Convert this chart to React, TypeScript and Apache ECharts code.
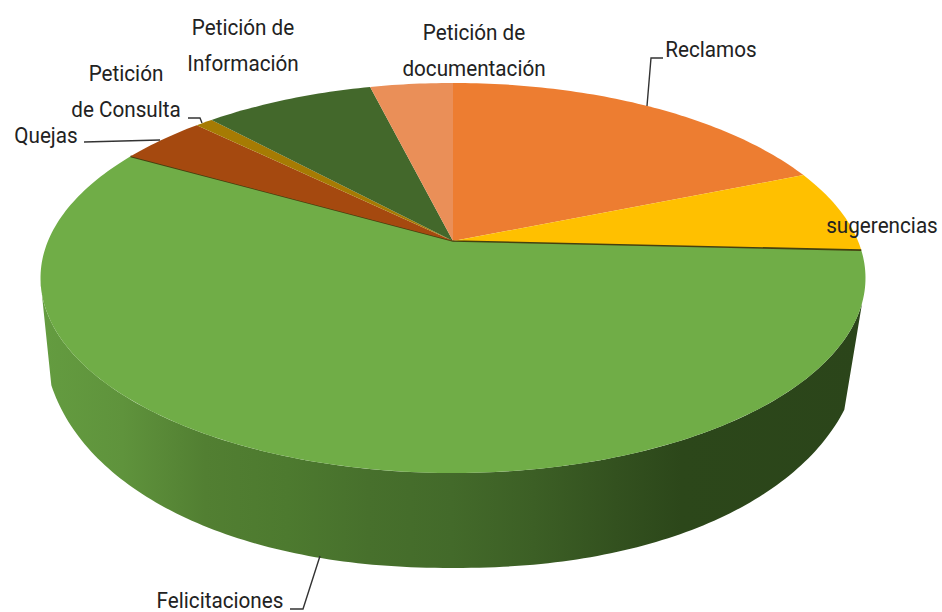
import React, { useEffect, useRef } from "react";
import * as echarts from "echarts";

const categories = ["Reclamos", "sugerencias", "Felicitaciones", "Quejas", "Petición de Consulta", "Petición de Información", "Petición de documentación"];
const shares = [18.9, 6.9, 57.5, 4.1, 0.83, 8.0, 3.9];
const topColors = ["#ed7d31", "#ffc000", "#70ad47", "#a5490f", "#a67b03", "#43682b", "#ea8f58"];

const labelLines = [
  { text: "Reclamos", x: 711, y: 49 },
  { text: "sugerencias", x: 882, y: 225 },
  { text: "Felicitaciones", x: 220, y: 600 },
  { text: "Quejas", x: 46, y: 135 },
  { text: "Petición\nde Consulta", x: 126, y: 91 },
  { text: "Petición de\nInformación", x: 243, y: 45 },
  { text: "Petición de\ndocumentación", x: 474, y: 50 },
];
const leaders = [
  [[647, 106], [651, 58], [663, 58]],
  [[290, 609], [303, 609], [320, 556]],
  [[84, 142], [160, 140]],
  [[188, 118], [200, 118], [202, 123]],
];

const APEX = [453, 241];
const A = 188, C = -0.1897, D = 405;
const BOTTOM = { cx: 453, cy: 330, a: 410, b: 238, p: 0.93 };
const WALL_FROM = 108, WALL_TO = 258;
const rad = (d: number) => (d * Math.PI) / 180;

function top(deg: number) {
  const u = Math.sin(rad(deg)), v = -Math.cos(rad(deg));
  const k = 1 + C * v;
  return [APEX[0] + (D * u) / k, APEX[1] + (A * v) / k];
}
function bottom(deg: number) {
  const s = Math.sin(rad(deg)), c = -Math.cos(rad(deg));
  return [
    BOTTOM.cx + BOTTOM.a * Math.sign(s) * Math.pow(Math.abs(s), BOTTOM.p),
    BOTTOM.cy + BOTTOM.b * Math.sign(c) * Math.pow(Math.abs(c), BOTTOM.p),
  ];
}
function arc(from: number, to: number, fn: (d: number) => number[]) {
  const n = Math.max(2, Math.ceil(Math.abs(to - from)));
  const pts: number[][] = [];
  for (let i = 0; i <= n; i++) pts.push(fn(from + ((to - from) * i) / n));
  return pts;
}

const total = shares.reduce((a, b) => a + b, 0);
let acc = 0;
const seriesData = categories.map((name, i) => {
  const start = acc;
  acc += shares[i];
  return { name, value: [shares[i], start] };
});

const wallFill = new echarts.graphic.LinearGradient(0, 0, 1, 0, [
  { offset: 0, color: "#649c40" },
  { offset: 0.1, color: "#5f933c" },
  { offset: 0.2, color: "#527f32" },
  { offset: 0.3, color: "#4d7a2f" },
  { offset: 0.4, color: "#47702c" },
  { offset: 0.5, color: "#436a2a" },
  { offset: 0.6, color: "#3c5f25" },
  { offset: 0.7, color: "#33511f" },
  { offset: 0.78, color: "#2c471a" },
  { offset: 1, color: "#2b451a" },
]);

function renderItem(params: any, api: any) {
  const i = params.dataIndex;
  const a0 = (api.value(1) / total) * 360;
  const a1 = a0 + (api.value(0) / total) * 360;
  const children: any[] = [];
  const w0 = Math.max(a0, WALL_FROM), w1 = Math.min(a1, WALL_TO);
  if (w1 > w0) {
    children.push({
      type: "polygon",
      shape: { points: [...arc(w0, w1, top), ...arc(w1, w0, bottom)] },
      style: { fill: wallFill },
    });
  }
  const face = [APEX, ...arc(a0, a1, top)];
  children.push({ type: "polygon", shape: { points: face }, style: { fill: topColors[i] } });
  if (w1 > w0) {
    children.push({
      type: "polyline",
      shape: { points: [top(a0), APEX, top(a1)] },
      style: { fill: "none", stroke: "#45400f", lineWidth: 1.6 },
    });
  }
  return { type: "group", children };
}

export default function App() {
  const ref = useRef<HTMLDivElement>(null);
  useEffect(() => {
    const chart = echarts.init(ref.current!, null, { renderer: "svg" });
    chart.setOption({
      animation: false,
      backgroundColor: "#ffffff",
      series: [{
        type: "custom",
        coordinateSystem: "none",
        renderItem,
        data: seriesData,
        silent: true,
      }],
      graphic: [
        ...leaders.map((pts) => ({
          type: "polyline",
          shape: { points: pts },
          style: { fill: "none", stroke: "#333333", lineWidth: 1.4 },
          z: 10,
        })),
        ...labelLines.map((l) => ({
          type: "text",
          x: l.x,
          y: l.y,
          scaleX: 0.94,
          z: 11,
          style: {
            text: l.text,
            fill: "#222222",
            font: "400 22px Roboto, sans-serif",
            lineHeight: 36,
            align: "center",
            verticalAlign: "middle",
          },
        })),
      ],
    });
    return () => chart.dispose();
  }, []);
  return <div ref={ref} style={{ position: "absolute", left: 0, top: 0, width: 942, height: 612 }} />;
}
